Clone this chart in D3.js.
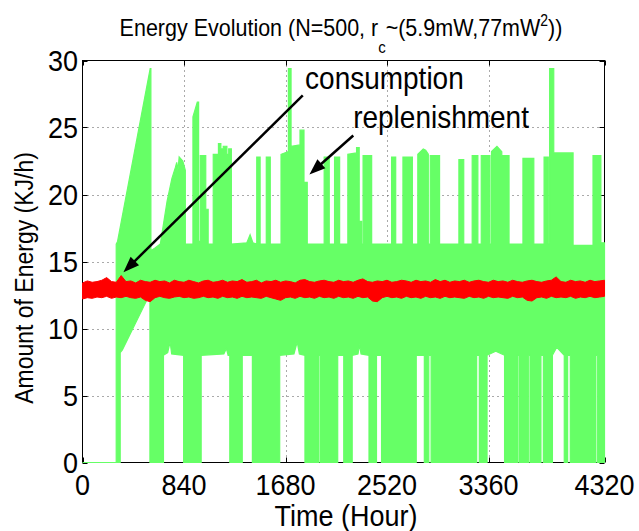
<!DOCTYPE html>
<html><head><meta charset="utf-8">
<script src="https://cdn.jsdelivr.net/npm/d3@7"></script>
<style>
body{margin:0;background:#fff}
svg{display:block}
text{font-family:"Liberation Sans",Arial,Helvetica,sans-serif;fill:#000}
</style>
</head><body><svg id="c" width="639" height="531"></svg>
<script>
// ---------------- data ----------------
const xTicks = [0, 840, 1680, 2520, 3360, 4320];
const yTicks = [0, 5, 10, 15, 20, 25, 30];

// consumption envelope (upper edge of the dense green trace): [hour, KJ/h]
const greenTop = [
  [0,0],[279,0],[279,16.3],[290,16.5],[560,29.4],[566,29.4],[566,15.8],[600,16.0],[644,16.3],
  [700,19.5],[740,21.2],[768,22.0],[780,22.4],[790,21.8],[800,22.8],[830,22.5],[851,21.8],[851,16.3],
  [914,16.3],[914,25.8],[950,26.9],[961,26.9],[961,16.5],[975,16.5],[975,22.9],[1020,22.9],
  [1020,18.9],[1040,18.9],[1040,16.3],[1082,16.3],[1082,23.0],[1125,23.0],[1125,23.8],[1145,23.8],
  [1145,23.4],[1165,23.4],[1165,23.6],[1195,23.6],[1195,23.0],[1210,23.0],[1210,23.4],[1232,23.4],
  [1232,16.3],[1360,16.4],[1387,17.0],[1410,16.4],[1442,16.3],[1442,22.8],[1470,22.8],[1470,16.3],
  [1521,16.3],[1521,22.8],[1554,22.8],[1554,16.3],[1643,16.3],[1643,23.0],[1704,23.2],[1704,29.4],
  [1726,29.4],[1726,23.6],[1800,23.7],[1800,24.8],[1833,24.8],[1833,20.9],[1860,20.9],[1860,16.3],
  [2000,16.3],[2000,22.8],[2042,22.8],[2042,16.3],[2086,16.3],[2086,22.8],[2128,22.8],[2128,16.3],
  [2196,16.3],[2196,23.0],[2268,23.1],[2268,23.5],[2290,23.5],[2290,18.0],[2310,18.0],[2310,16.3],
  [2322,16.3],[2322,22.9],[2393,22.9],[2393,16.3],[2558,16.3],[2558,22.8],[2592,22.8],[2592,16.3],
  [2652,16.3],[2652,22.8],[2730,22.8],[2730,16.3],[2775,16.3],[2775,23.0],[2820,23.4],[2840,23.3],
  [2862,23.0],[2862,16.3],[2878,16.3],[2878,22.9],[2955,22.9],[2955,16.3],[3115,16.3],[3115,22.6],
  [3155,22.6],[3155,16.3],[3225,16.3],[3225,22.9],[3272,22.9],[3272,16.3],[3300,16.3],[3300,22.9],
  [3372,22.9],[3372,16.3],[3385,16.3],[3385,23.2],[3430,23.6],[3470,23.2],[3470,22.9],[3530,22.9],
  [3530,16.3],[3645,16.3],[3645,22.7],[3735,22.7],[3735,16.3],[3820,16.3],[3820,22.8],[3855,22.8],
  [3855,16.3],[3866,16.3],[3866,29.4],[3900,29.4],[3900,23.1],[4060,23.1],[4060,16.2],[4225,16.2],
  [4225,22.9],[4290,22.9],[4290,16.4],[4320,16.4]
];

// consumption envelope (lower edge of the dense green trace): [hour, KJ/h]
const greenBottom = [
  [0,0],[312,0],[312,8.2],[330,8.4],[558,12.6],[558,0],[670,0],[670,8.0],[705,8.2],[725,9.0],
  [738,8.1],[837,8.0],[837,0],[982,0],[982,8.0],[1170,8.1],[1191,8.5],[1205,8.0],[1219,8.0],[1219,0],
  [1322,0],[1322,8.0],[1406,8.0],[1406,0],[1632,0],[1632,8.0],[1750,8.1],[1777,9.0],[1795,8.1],
  [1841,8.0],[1841,0],[1953,0],[1953,8.0],[1966,8.0],[1966,0],[2112,0],[2112,8.0],[2162,8.0],[2162,0],
  [2232,0],[2232,8.0],[2280,8.1],[2293,8.8],[2305,8.1],[2371,8.0],[2371,0],[2433,0],[2433,8.0],
  [2475,8.0],[2475,0],[2762,0],[2762,8.0],[2829,8.0],[2829,0],[2866,0],[2866,8.0],[2885,8.0],[2885,0],
  [3262,0],[3262,8.0],[3284,8.0],[3284,0],[3348,0],[3348,8.0],[3420,8.3],[3493,8.0],[3493,0],
  [3599,0],[3599,8.0],[3612,8.0],[3612,0],[3694,0],[3694,8.0],[3707,8.0],[3707,0],[3794,0],[3794,8.0],
  [3814,8.0],[3814,0],[3889,0],[3889,8.0],[3925,8.6],[3987,8.0],[3987,0],[4015,0],[4015,8.0],
  [4037,8.0],[4037,0],[4246,0],[4246,8.0],[4260,8.0],[4260,0],[4320,0]
];

// replenishment band (red): sample hours, upper and lower edge
const redHours = [
  0,40,80,120,160,200,240,280,320,360,
  400,440,480,520,560,600,640,680,720,760,
  800,840,880,920,960,1000,1040,1080,1120,1160,
  1200,1240,1280,1320,1360,1400,1440,1480,1520,1560,
  1600,1640,1680,1720,1760,1800,1840,1880,1920,1960,
  2000,2040,2080,2120,2160,2200,2240,2280,2320,2360,
  2400,2440,2480,2520,2560,2600,2640,2680,2720,2760,
  2800,2840,2880,2920,2960,3000,3040,3080,3120,3160,
  3200,3240,3280,3320,3360,3400,3440,3480,3520,3560,
  3600,3640,3680,3720,3760,3800,3840,3880,3920,3960,
  4000,4040,4080,4120,4160,4200,4240,4280,4320];
const redTop = [
  13.4,13.55,13.45,13.5,13.6,13.8,13.5,13.45,13.95,13.5,
  13.55,13.4,13.6,13.5,13.45,13.6,13.5,13.55,13.4,13.6,
  13.5,13.45,13.6,13.5,13.4,13.55,13.6,13.45,13.5,13.6,
  13.45,13.55,13.5,13.65,13.45,13.5,13.6,13.4,13.55,13.5,
  13.6,13.45,13.55,13.5,13.4,13.6,13.65,13.5,13.45,13.55,
  13.6,13.5,13.45,13.6,13.5,13.55,13.45,13.6,13.7,13.5,
  13.45,13.55,13.5,13.6,13.45,13.5,13.6,13.55,13.45,13.6,
  13.5,13.55,13.45,13.65,13.5,13.6,13.45,13.55,13.5,13.6,
  13.45,13.55,13.6,13.5,13.45,13.6,13.5,13.55,13.45,13.6,
  13.5,13.45,13.55,13.6,13.5,13.45,13.55,13.6,13.85,13.5,
  13.45,13.6,13.5,13.55,13.45,13.6,13.5,13.55,13.6];
const redBottom = [
  12.2,12.3,12.25,12.35,12.3,12.4,12.25,12.35,12.3,12.4,
  12.3,12.25,12.35,12.1,12.0,12.3,12.4,12.3,12.25,12.35,
  12.4,12.3,12.35,12.25,12.3,12.4,12.3,12.35,12.25,12.4,
  12.3,12.35,12.25,12.4,12.3,12.35,12.3,12.25,12.4,12.3,
  12.2,12.1,12.3,12.35,12.25,12.4,12.3,12.35,12.25,12.4,
  12.3,12.35,12.25,12.4,12.3,12.35,12.25,12.4,12.3,12.35,
  12.05,12.0,12.3,12.4,12.3,12.35,12.25,12.4,12.3,12.35,
  12.25,12.4,12.3,12.35,12.25,12.4,12.3,12.35,12.3,12.25,
  12.4,12.3,12.35,12.25,12.4,12.3,12.35,12.3,12.25,12.4,
  12.3,12.35,12.1,12.05,12.3,12.35,12.25,12.4,12.3,12.35,
  12.3,12.4,12.25,12.35,12.3,12.4,12.3,12.35,12.4];

// annotations (text anchor / arrow from -> to, in data units)
const annConsumption = {label:"consumption", at:[1842,27.9], from:[1823,27.4], to:[339,14.2]};
const annReplenish   = {label:"replenishment", at:[2240,25.0], from:[2241,24.4], to:[1878,21.5]};

// ---------------- drawing ----------------
const svg = d3.select("#c");
const x = d3.scaleLinear().domain([0,4320]).range([82.5,604.5]);
const y = d3.scaleLinear().domain([0,30]).range([462.5,60.5]);
const sy = 1.12;
const GREEN = "#66ff66", RED = "#ff0000";

function label(parent, px, py, str, size, anchor, syv){
  return parent.append("text")
    .attr("transform", `translate(${px},${py}) scale(1,${syv||sy})`)
    .attr("font-size", size).attr("text-anchor", anchor||"start").text(str);
}

// grid
const grid = svg.append("g").attr("stroke","#555").attr("stroke-width",1).attr("stroke-dasharray","1,4");
xTicks.slice(1,-1).forEach(t=>grid.append("line").attr("x1",Math.round(x(t))+0.5).attr("x2",Math.round(x(t))+0.5).attr("y1",y(30)).attr("y2",y(0)));
yTicks.slice(1,-1).forEach(t=>grid.append("line").attr("y1",Math.round(y(t))+0.5).attr("y2",Math.round(y(t))+0.5).attr("x1",x(0)).attr("x2",x(4320)));

// box + ticks
const ax = svg.append("g").attr("stroke","#000").attr("stroke-width",1).attr("fill","none");
ax.append("rect").attr("x",x(0)).attr("y",y(30)).attr("width",x(4320)-x(0)).attr("height",y(0)-y(30));
xTicks.forEach(t=>{
  const px = Math.round(x(t))+0.5;
  ax.append("line").attr("x1",px).attr("x2",px).attr("y1",y(0)).attr("y2",y(0)-5);
  ax.append("line").attr("x1",px).attr("x2",px).attr("y1",y(30)).attr("y2",y(30)+5);
});
yTicks.forEach(t=>{
  const py = Math.round(y(t))+0.5;
  ax.append("line").attr("y1",py).attr("y2",py).attr("x1",x(0)).attr("x2",x(0)+5);
  ax.append("line").attr("y1",py).attr("y2",py).attr("x1",x(4320)).attr("x2",x(4320)-5);
});

// green consumption trace (envelope polygon)
const env = greenTop.concat(greenBottom.slice().reverse());
const line = d3.line().x(d=>x(d[0])).y(d=>y(d[1]));
svg.append("path").attr("d", line(env)+"Z")
  .attr("fill",GREEN).attr("stroke",GREEN).attr("stroke-width",1.2).attr("stroke-linejoin","miter");

// red replenishment band
const redData = redHours.map((h,i)=>({h, hi:redTop[i], lo:redBottom[i]}));
svg.append("path").datum(redData)
  .attr("d", d3.area().x(d=>x(d.h)).y0(d=>y(d.lo)).y1(d=>y(d.hi)))
  .attr("fill",RED).attr("stroke",RED).attr("stroke-width",1);

// tick labels
const tl = svg.append("g");
xTicks.forEach(t=>label(tl, x(t), 495, String(t), 27, "middle"));
yTicks.forEach(t=>label(tl, 78, y(t)+10.8, String(t), 27, "end"));

// axis labels
label(svg, 346, 526, "Time (Hour)", 27, "middle");
svg.append("text")
  .attr("transform","translate(33,278) rotate(-90) scale(1,1.12)")
  .attr("font-size",23).attr("text-anchor","middle").text("Amount of Energy (KJ/h)");

// title
const title = svg.append("text")
  .attr("transform",`translate(341,36) scale(1,${sy})`)
  .attr("font-size",21.5).attr("text-anchor","middle");
title.append("tspan").text("Energy Evolution (N=500, r");
title.append("tspan").attr("font-size",15).attr("dy",17/sy).text("c");
title.append("tspan").attr("dy",-17/sy).text("~(5.9mW,77mW");
title.append("tspan").attr("font-size",14).attr("dy",-10.5/sy).text("2");
title.append("tspan").attr("dy",10.5/sy).text("))");

// annotations
function arrow(a){
  const p0=[x(a.from[0]),y(a.from[1])], p1=[x(a.to[0]),y(a.to[1])];
  const dx=p1[0]-p0[0], dy=p1[1]-p0[1], L=Math.hypot(dx,dy);
  const u=[dx/L,dy/L], n=[-u[1],u[0]];
  const hl=16, hw=6;
  const b=[p1[0]-u[0]*hl, p1[1]-u[1]*hl];
  svg.append("line").attr("x1",p0[0]).attr("y1",p0[1]).attr("x2",b[0]+u[0]*3).attr("y2",b[1]+u[1]*3)
    .attr("stroke","#000").attr("stroke-width",2.5);
  svg.append("path").attr("d",`M${p1[0]},${p1[1]}L${b[0]+n[0]*hw},${b[1]+n[1]*hw}L${b[0]-n[0]*hw},${b[1]-n[1]*hw}Z`)
    .attr("fill","#000");
  label(svg, x(a.at[0]), y(a.at[1]), a.label, 28, "start", 1.15);
}
arrow(annConsumption);
arrow(annReplenish);
</script>
</body></html>
